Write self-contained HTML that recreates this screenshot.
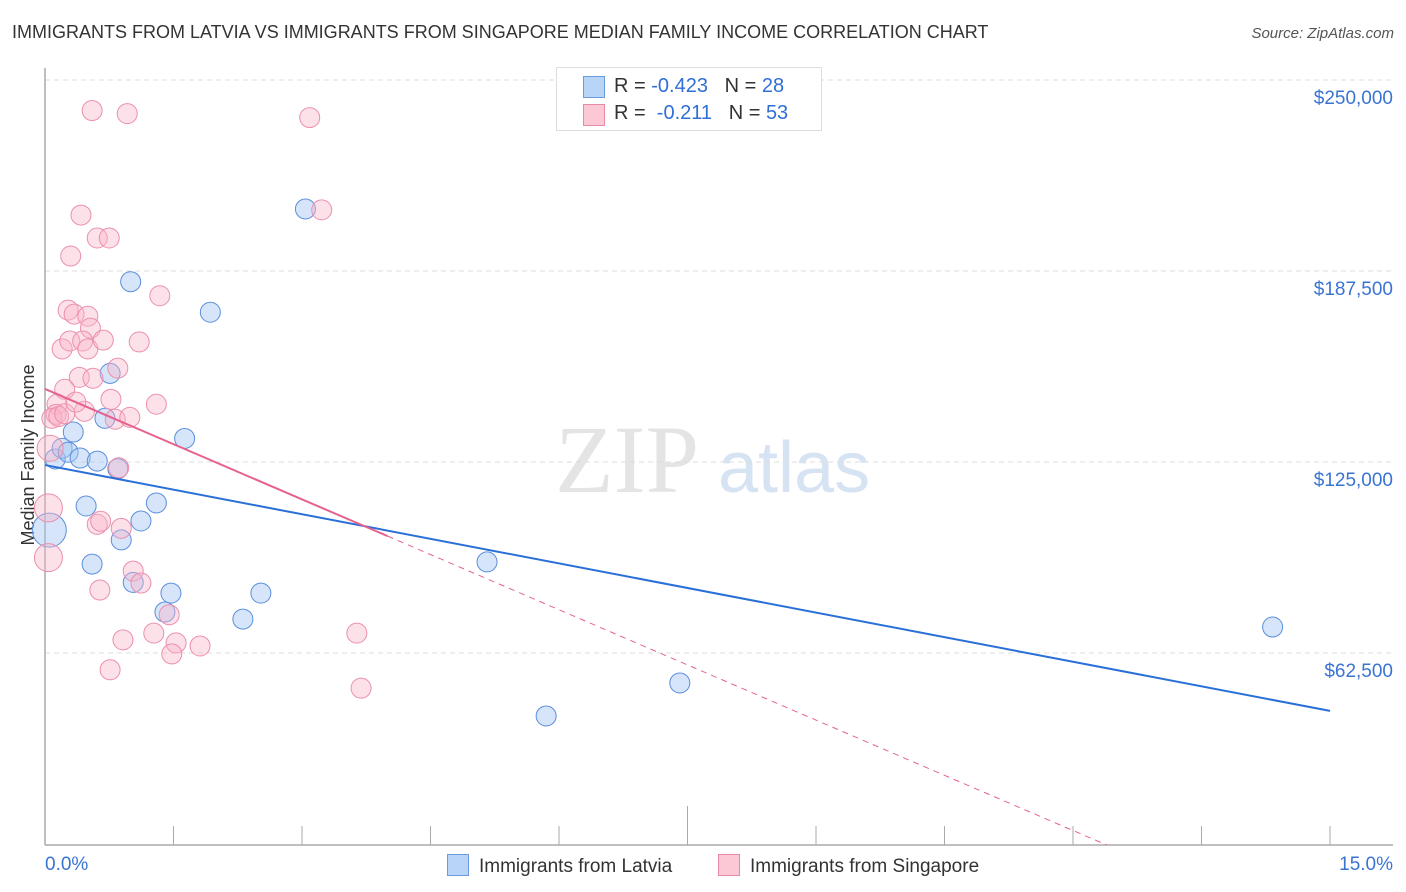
<!DOCTYPE html>
<html><head><meta charset="utf-8"><style>
body{margin:0;background:#fff;font-family:"Liberation Sans",sans-serif;}
#wrap{position:relative;width:1406px;height:892px;overflow:hidden;}
.t{position:absolute;white-space:nowrap;}
</style></head><body>
<div id="wrap">
<div class="t" style="left:12px;top:22px;font-size:18px;color:#333;">IMMIGRANTS FROM LATVIA VS IMMIGRANTS FROM SINGAPORE MEDIAN FAMILY INCOME CORRELATION CHART</div>
<div class="t" style="right:12px;top:25px;font-size:15px;color:#555;font-style:italic;">Source: ZipAtlas.com</div>
<svg id="chart" width="1406" height="892" style="position:absolute;left:0;top:0">
<text x="555" y="492" font-size="96" fill="#e4e4e4" font-family="Liberation Serif,serif">ZIP</text>
<text x="718" y="492" font-size="72" fill="#d6e3f3" font-family="Liberation Sans,sans-serif">atlas</text>
<text transform="translate(34,455) rotate(-90)" text-anchor="middle" font-size="18" fill="#333">Median Family Income</text>
</svg>
<div style="position:absolute;left:556px;top:67px;width:264px;height:62px;border:1px solid #ddd;background:#fff;font-size:20px;">
<div style="position:absolute;left:26px;top:8px;width:20px;height:20px;background:#b8d4f6;border:1px solid #6b9be0;"></div>
<div class="t" style="left:57px;top:7px;color:#333;">R = <span style="color:#2f6fd6">-0.423</span>&nbsp;&nbsp;&nbsp;N = <span style="color:#2f6fd6">28</span></div>
<div style="position:absolute;left:26px;top:36px;width:20px;height:20px;background:#fcc8d6;border:1px solid #e88aa6;"></div>
<div class="t" style="left:57px;top:34px;color:#333;">R = &nbsp;<span style="color:#2f6fd6">-0.211</span>&nbsp;&nbsp;&nbsp;N = <span style="color:#2f6fd6">53</span></div>
</div>
<div style="position:absolute;left:447px;top:854px;font-size:19px;color:#333;">
<span style="display:inline-block;width:20px;height:20px;background:#b8d4f6;border:1px solid #6b9be0;vertical-align:-4px;margin-right:10px"></span>Immigrants from Latvia</div>
<div style="position:absolute;left:718px;top:854px;font-size:19px;color:#333;">
<span style="display:inline-block;width:20px;height:20px;background:#fcc8d6;border:1px solid #e88aa6;vertical-align:-4px;margin-right:10px"></span>Immigrants from Singapore</div>
</div>
<script>
const yTicks=[62500,125000,187500,250000];
const yTickLabels=["$62,500","$125,000","$187,500","$250,000"];
const xTicks=[0,1.5,3,4.5,6,7.5,9,10.5,12,13.5,15];
const latviaX=[0.12,0.2,0.27,0.33,0.41,0.61,0.48,0.55,0.7,0.76,0.85,0.89,1.0,1.03,1.12,1.3,1.4,1.47,1.63,1.93,2.31,2.52,3.04,5.16,5.85,7.41,14.33,0.05];
const latviaY=[126000,129500,128200,134800,126300,125300,110600,91600,139300,154000,122800,99500,184000,85600,105700,111600,75900,82100,132700,174000,73600,82100,207800,92300,41900,52700,71000,102700];
const latviaR=[10,10,10,10,10,10,10,10,10,10,10,10,10,10,10,10,10,10,10,10,10,10,10,10,10,10,10,17];
const singX=[0.55,0.96,3.09,0.42,0.61,0.75,0.3,3.23,1.34,0.27,0.34,0.5,0.53,0.2,0.29,0.44,0.5,1.1,0.85,0.4,0.56,0.23,0.77,1.3,0.14,0.13,0.08,0.46,0.82,0.99,0.86,0.06,0.04,0.04,0.61,0.65,0.89,1.03,1.12,1.45,0.64,0.91,1.27,1.53,1.48,1.81,0.76,3.64,3.69,0.16,0.23,0.36,0.68];
const singY=[240000,239000,237700,205800,198300,198300,192400,207500,179400,174700,173400,172700,168800,162000,164600,164600,162000,164300,155700,152700,152400,148800,145500,143900,143900,140600,139300,141600,139000,139600,123100,129500,110000,93700,104600,105600,103300,89300,85400,75000,83100,66800,69000,65800,62200,64800,57000,69000,51000,139900,140800,144600,164900];
const singR=[10,10,10,10,10,10,10,10,10,10,10,10,10,10,10,10,10,10,10,10,10,10,10,10,10,10,10,10,10,10,10,13,14,14,10,10,10,10,10,10,10,10,10,10,10,10,10,10,10,10,10,10,10];
const latviaTrend=[124000,43550];
const singTrend=[148900,-31700];
const singSolidEnd=4.0;
const X0=45,X1=1330,YB=845;
const sx=p=>X0+(p/15)*(X1-X0);
const sy=v=>462-(v-125000)*191/62500;
const NS="http://www.w3.org/2000/svg";
const svg=document.getElementById('chart');
function mk(tag,attrs){const e=document.createElementNS(NS,tag);for(const k in attrs)e.setAttribute(k,attrs[k]);svg.appendChild(e);return e;}
yTicks.forEach((v,i)=>{
 const g=mk('line',{x1:X0,x2:1393,y1:sy(v),y2:sy(v),stroke:'#ddd','stroke-dasharray':'5,4'});
 
 
 const t=mk('text',{x:1393,y:sy(v)+24,'text-anchor':'end','font-size':19,fill:'#3a74d3'});
 t.textContent=yTickLabels[i];
 
 
});
const ya=mk('line',{x1:X0,x2:X0,y1:68,y2:YB,stroke:'#aaa','stroke-width':1.5});


const xa=mk('line',{x1:X0,x2:1393,y1:YB,y2:YB,stroke:'#aaa','stroke-width':1.5});


xTicks.forEach(p=>{
 const tk=mk('line',{x1:sx(p),x2:sx(p),y1:p===7.5?806:826,y2:YB,stroke:'#aaa'});
 
 
});
const xl0=mk('text',{x:45,y:870,'font-size':19,fill:'#3a74d3'});xl0.textContent=xTicks[0].toFixed(1)+'%';


const xl1=mk('text',{x:1393,y:870,'font-size':19,fill:'#3a74d3','text-anchor':'end'});xl1.textContent=xTicks[10].toFixed(1)+'%';


latviaX.forEach((p,i)=>{
 const c=mk('circle',{cx:sx(p),cy:sy(latviaY[i]),r:latviaR[i],fill:'rgba(164,198,242,0.45)',stroke:'#5b8fdc','stroke-width':1});
 
 
});
singX.forEach((p,i)=>{
 const c=mk('circle',{cx:sx(p),cy:sy(singY[i]),r:singR[i],fill:'rgba(250,180,200,0.4)',stroke:'#eb8fae','stroke-width':1});
 
 
});
const lt=v=>latviaTrend[0]+(latviaTrend[1]-latviaTrend[0])*v/15;
const st=v=>singTrend[0]+(singTrend[1]-singTrend[0])*v/15;
const l1=mk('line',{x1:sx(0),y1:sy(lt(0)),x2:sx(15),y2:sy(lt(15)),stroke:'#2a6fd8','stroke-width':2});


const l2=mk('line',{x1:sx(0),y1:sy(st(0)),x2:sx(singSolidEnd),y2:sy(st(singSolidEnd)),stroke:'#e5628e','stroke-width':2});


const pEnd=15*(YB-sy(st(0)))/(sy(st(15))-sy(st(0)));
const l3=mk('line',{x1:sx(singSolidEnd),y1:sy(st(singSolidEnd)),x2:sx(pEnd),y2:YB,stroke:'#e5628e','stroke-width':1,'stroke-dasharray':'6,5'});


</script>
</body></html>
